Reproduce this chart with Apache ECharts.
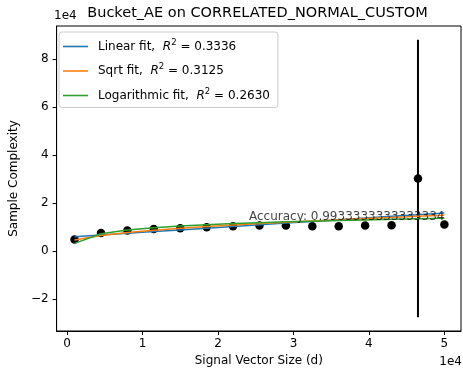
<!DOCTYPE html>
<html>
<head>
<meta charset="utf-8">
<script src="https://cdn.jsdelivr.net/npm/echarts@6/dist/echarts.min.js"></script>
<style>
html,body{margin:0;padding:0;background:#fff;}
#chart{width:463px;height:372px;}
</style>
</head>
<body>
<div id="chart"></div>
<script>
// ---- data ----
const xValues = [1000, 4500, 8000, 11500, 15000, 18500, 22000, 25500, 29000, 32500, 36000, 39500, 43000, 46500, 50000];
const meanValues = [4900, 7600, 8600, 9300, 9600, 10000, 10400, 10700, 10700, 10400, 10400, 10700, 10800, 30300, 11100];
const errValues = [0, 0, 0, 0, 0, 0, 0, 0, 0, 0, 0, 0, 0, 57800, 0];
const linearFit = [6060, 6770, 7470, 8180, 8890, 9590, 10300, 11010, 11720, 12420, 13130, 13840, 14540, 15250, 15960];
const sqrtFit = [4670, 6570, 7770, 8720, 9540, 10270, 10930, 11540, 12110, 12640, 13150, 13640, 14100, 14540, 14970];
const logFit = [3270, 7280, 8810, 9770, 10480, 11040, 11500, 11900, 12240, 12540, 12810, 13060, 13290, 13490, 13690];
const fitNames = ['Linear fit', 'Sqrt fit', 'Logarithmic fit'];
const r2Values = ['0.3336', '0.3125', '0.2630'];
const xTicks = [0, 10000, 20000, 30000, 40000, 50000];
const yTicks = [-20000, 0, 20000, 40000, 60000, 80000];
const accuracyText = 'Accuracy: 0.9933333333333334';
const accuracyPos = [50000, 14300];
const titleText = 'Bucket_AE on CORRELATED_NORMAL_CUSTOM';

const FONT = 'DejaVu Sans';
const colors = ['#1f77b4', '#ff7f0e', '#2ca02c'];
const fits = [linearFit, sqrtFit, logFit];

function fmtTick(v) {
  const n = Math.round(v / 10000);
  return n < 0 ? '\u2212' + Math.abs(n) : String(n);
}

const chart = echarts.init(document.getElementById('chart'), null, {renderer: 'canvas'});

const series = [];
series.push({
  name: 'errbar',
  type: 'custom',
  data: xValues.map((x, i) => [x, meanValues[i], errValues[i]]),
  renderItem: function (params, api) {
    const e = api.value(2);
    if (!e) return null;
    const p1 = api.coord([api.value(0), api.value(1) - e]);
    const p2 = api.coord([api.value(0), api.value(1) + e]);
    return {type: 'line', shape: {x1: p1[0], y1: p1[1], x2: p2[0], y2: p2[1]}, style: {stroke: '#000', lineWidth: 2}};
  },
  z: 2,
  silent: true
});
series.push({
  name: 'points',
  type: 'scatter',
  data: xValues.map((x, i) => [x, meanValues[i]]),
  symbolSize: 8.5,
  itemStyle: {color: '#000', opacity: 1},
  z: 3,
  silent: true
});
fits.forEach((arr, k) => {
  series.push({
    name: fitNames[k],
    type: 'line',
    data: xValues.map((x, i) => [x, arr[i]]),
    showSymbol: false,
    symbol: 'none',
    lineStyle: {color: colors[k], width: 1.5},
    itemStyle: {color: colors[k]},
    z: 4,
    silent: true,
    animation: false
  });
});
series.push({
  name: 'acc',
  type: 'scatter',
  data: [accuracyPos],
  symbolSize: 0,
  z: 5,
  silent: true,
  label: {
    show: true, position: 'left', distance: 0,
    formatter: accuracyText,
    fontFamily: FONT, fontSize: 12, color: '#111',
    align: 'right', verticalAlign: 'middle'
  }
});

const option = {
  animation: false,
  backgroundColor: '#fff',
  grid: {left: 54, right: 2, top: 26, bottom: 40, show: true, borderColor: '#000', borderWidth: 1, backgroundColor: 'transparent'},
  xAxis: {
    type: 'value', min: -1382, max: 52200,
    name: 'Signal Vector Size (d)', nameLocation: 'middle', nameGap: 24,
    nameTextStyle: {fontFamily: FONT, fontSize: 12, color: '#000'},
    axisLine: {show: true, onZero: false, lineStyle: {color: '#000', width: 1}},
    axisTick: {show: true, length: 4, lineStyle: {color: '#000'}, customValues: xTicks},
    axisLabel: {fontFamily: FONT, fontSize: 12, color: '#000', margin: 7, customValues: xTicks, formatter: fmtTick},
    splitLine: {show: false}
  },
  yAxis: {
    type: 'value', min: -33260, max: 93880,
    name: 'Sample Complexity', nameLocation: 'middle', nameGap: 29,
    nameTextStyle: {fontFamily: FONT, fontSize: 12, color: '#000'},
    axisLine: {show: true, onZero: false, lineStyle: {color: '#000', width: 1}},
    axisTick: {show: true, length: 4, lineStyle: {color: '#000'}, customValues: yTicks},
    axisLabel: {fontFamily: FONT, fontSize: 12, color: '#000', margin: 8, customValues: yTicks, formatter: fmtTick},
    splitLine: {show: false}
  },
  legend: {
    data: fitNames.map((n, k) => ({name: n, icon: 'rect', itemStyle: {color: colors[k], opacity: 1}})),
    orient: 'vertical',
    left: 59, top: 32,
    itemWidth: 25, itemHeight: 1.6, itemGap: 10,
    padding: [6, 8, 6, 4],
    borderColor: '#cccccc', borderWidth: 1, borderRadius: 3,
    backgroundColor: 'rgba(255,255,255,0.8)',
    selectedMode: false,
    formatter: function (name) {
      const i = fitNames.indexOf(name);
      return '{g| }{t|' + name + ',  }{i|R}{s|2}{t| = ' + r2Values[i] + '}';
    },
    textStyle: {
      fontFamily: FONT, fontSize: 12, color: '#000',
      rich: {
        g: {width: 5, fontSize: 12, lineHeight: 17},
        t: {fontFamily: FONT, fontSize: 12, color: '#000', lineHeight: 17},
        i: {fontFamily: FONT, fontSize: 12, fontStyle: 'italic', color: '#000', lineHeight: 17},
        s: {fontFamily: FONT, fontSize: 8.5, color: '#000', lineHeight: 11, verticalAlign: 'top'}
      }
    }
  },
  graphic: [
    {type: 'text', x: 257.5, y: 13.5, style: {text: titleText, font: '14.5px "DejaVu Sans"', fill: '#000', textAlign: 'center', textVerticalAlign: 'middle'}},
    {type: 'text', x: 54, y: 16, style: {text: '1e4', font: '12px "DejaVu Sans"', fill: '#000', textAlign: 'left', textVerticalAlign: 'middle'}},
    {type: 'text', x: 462, y: 361.5, style: {text: '1e4', font: '12px "DejaVu Sans"', fill: '#000', textAlign: 'right', textVerticalAlign: 'middle'}}
  ],
  series: series
};
chart.setOption(option);
</script>
</body>
</html>
